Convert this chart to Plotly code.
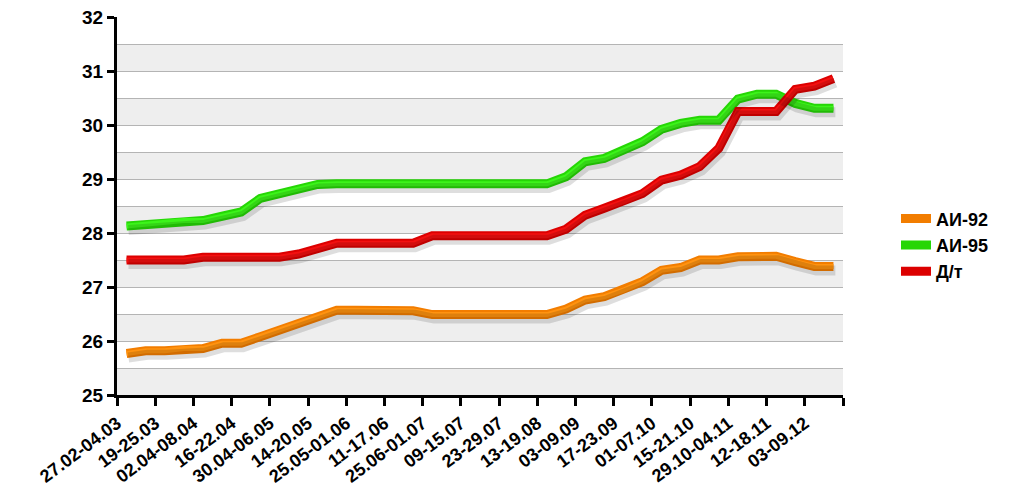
import plotly.graph_objects as go

# weekly periods (labels every second week)
periods = ["27.02-04.03", "19-25.03", "02.04-08.04", "16-22.04", "30.04-06.05",
           "14-20.05", "25.05-01.06", "11-17.06", "25.06-01.07", "09-15.07",
           "23-29.07", "13-19.08", "03-09.09", "17-23.09", "01-07.10",
           "15-21.10", "29.10-04.11", "12-18.11", "03-09.12"]

ai92 = [25.77, 25.82, 25.82, 25.86, 25.86, 25.96, 25.96, 26.08, 26.20, 26.34,
        26.45, 26.57, 26.57, 26.57, 26.57, 26.56, 26.49, 26.49, 26.49, 26.49,
        26.49, 26.49, 26.49, 26.59, 26.76, 26.82, 26.94, 27.10, 27.31, 27.36,
        27.50, 27.50, 27.56, 27.57, 27.57, 27.47, 27.38, 27.38]
ai95 = [28.13, 28.16, 28.18, 28.23, 28.23, 28.31, 28.39, 28.64, 28.73, 28.81,
        28.90, 28.91, 28.91, 28.91, 28.91, 28.91, 28.91, 28.91, 28.91, 28.91,
        28.91, 28.91, 28.91, 29.04, 29.32, 29.38, 29.54, 29.69, 29.92, 30.03,
        30.09, 30.09, 30.48, 30.57, 30.57, 30.40, 30.31, 30.31]
dt = [27.50, 27.50, 27.50, 27.50, 27.55, 27.55, 27.55, 27.55, 27.55, 27.61,
      27.72, 27.81, 27.81, 27.81, 27.81, 27.81, 27.95, 27.95, 27.95, 27.95,
      27.95, 27.95, 27.95, 28.07, 28.33, 28.46, 28.58, 28.73, 28.98, 29.07,
      29.23, 29.57, 30.25, 30.25, 30.25, 30.66, 30.72, 30.86]

weeks = list(range(len(ai92)))

series = [
    ("АИ-92", ai92, "#f27d00", "#ff9310"),
    ("АИ-95", ai95, "#26d606", "#3cf41a"),
    ("Д/т", dt, "#dc0000", "#f31010"),
]

fig = go.Figure()

# soft shadows drawn on a slightly shifted overlay axis
for name, vals, dark, light in series:
    fig.add_trace(go.Scatter(x=weeks, y=vals, mode="lines", yaxis="y2", xaxis="x2",
                             line=dict(color="rgba(0,0,0,0.13)", width=10),
                             hoverinfo="skip", showlegend=False))

for name, vals, dark, light in series:
    fig.add_trace(go.Scatter(x=weeks, y=vals, mode="lines", name=name,
                             line=dict(color=dark, width=9)))
    fig.add_trace(go.Scatter(x=weeks, y=vals, mode="lines", showlegend=False,
                             hoverinfo="skip", line=dict(color=light, width=5)))

# alternating background bands
shapes = []
for b in range(25, 32):
    shapes.append(dict(type="rect", xref="paper", yref="y", x0=0, x1=1, y0=b, y1=b + 0.5,
                       fillcolor="#eeeeee", line=dict(width=0), layer="below"))

tickvals = [i * 2 - 0.5 for i in range(len(periods) + 1)]
ticktext = periods + [""]

fam = "Liberation Sans, Arial"

fig.update_layout(
    width=1015, height=494,
    margin=dict(l=109, r=180, t=9, b=107, autoexpand=False),
    paper_bgcolor="white", plot_bgcolor="white",
    shapes=shapes,
    showlegend=True,
    legend=dict(x=1.073, y=0.515, xanchor="left", yanchor="top",
                font=dict(family=fam, size=18, color="black", weight="bold"),
                tracegroupgap=0, itemwidth=30),
    xaxis=dict(range=[-0.5, 37.5], tickmode="array", tickvals=tickvals, ticktext=ticktext,
               tickangle=-37, ticks="outside", ticklen=8, tickwidth=3, tickcolor="black",
               showline=True, linewidth=3, linecolor="black", showgrid=False, zeroline=False,
               ticklabeloverflow="allow", automargin=False,
               tickfont=dict(family=fam, size=18, color="black", weight="bold")),
    yaxis=dict(range=[25, 32], dtick=1, ticks="outside", ticklen=7, tickwidth=3,
               tickcolor="black", showline=True, linewidth=3, linecolor="black",
               showgrid=True, gridcolor="#b4b4b4", gridwidth=1, zeroline=False,
               ticklabeloverflow="allow", automargin=False,
               minor=dict(dtick=0.5, showgrid=True, gridcolor="#b4b4b4", gridwidth=1, ticks=""),
               tickfont=dict(family=fam, size=19, color="black", weight="bold")),
    xaxis2=dict(range=[-0.6, 37.4], overlaying="x", visible=False),
    yaxis2=dict(range=[25.075, 32.075], overlaying="y", visible=False),
)

fig.write_html("out.html")
